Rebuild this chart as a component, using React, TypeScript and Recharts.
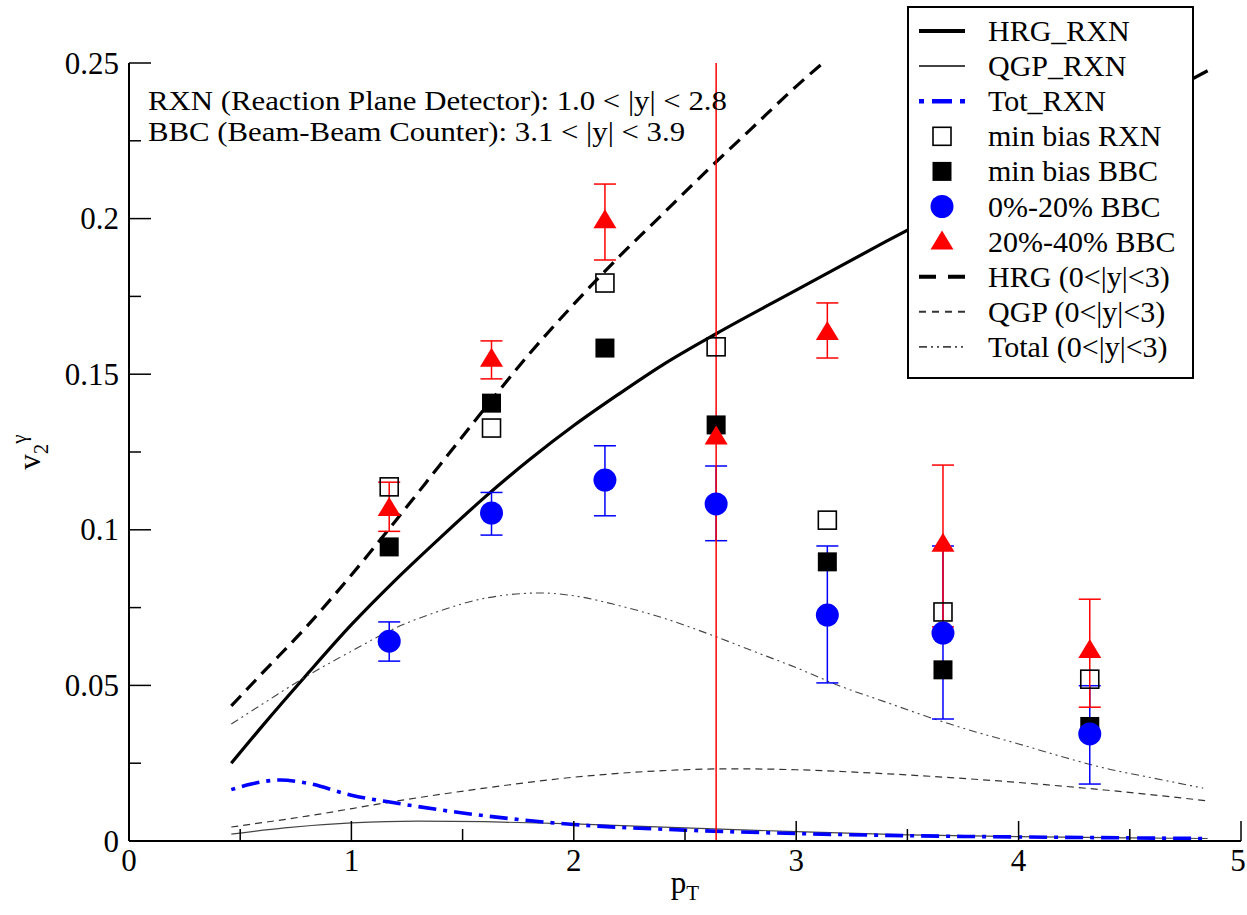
import { ComposedChart, Line, Scatter, XAxis, YAxis, ErrorBar } from 'recharts';

const FONT = '"Liberation Serif", "Times New Roman", serif';
const BLUE = '#0000ff';
const RED = '#ff0000';

// axis ticks (labels only on the major ones)
const X_TICKS = [0, 0.5, 1, 1.5, 2, 2.5, 3, 3.5, 4, 4.5, 5];
const Y_TICKS = [0, 0.025, 0.05, 0.075, 0.1, 0.125, 0.15, 0.175, 0.2, 0.225, 0.25];
const X_MAJOR = [0, 1, 2, 3, 4, 5];
const Y_MAJOR = [0, 0.05, 0.1, 0.15, 0.2, 0.25];
const Y_DOMAIN = [0, 0.25];

// measured points
const PT = [1.17, 1.63, 2.14, 2.64, 3.14, 3.66, 4.32];
const MIN_BIAS_RXN = [0.1138, 0.1327, 0.1793, 0.1588, 0.1031, 0.0736, 0.052];
const MIN_BIAS_BBC = [0.0945, 0.1407, 0.1584, 0.1337, 0.0897, 0.055, 0.0368];
const CENT_0_20 = [0.0642, 0.1054, 0.116, 0.1083, 0.0726, 0.0668, 0.0344];
const CENT_0_20_LOW = [0.0578, 0.0983, 0.1045, 0.0965, 0.0508, 0.0392, 0.0183];
const CENT_0_20_HIGH = [0.0704, 0.112, 0.127, 0.1205, 0.0948, 0.0948, 0.0499];
const CENT_20_40 = [0.107, 0.155, 0.1995, 0.13, 0.1636, 0.0955, 0.0614];
// the 2.64 bar runs past both ends of the frame
const CENT_20_40_LOW = [0.0995, 0.1485, 0.1867, 0, 0.1552, 0.0688, 0.043];
const CENT_20_40_HIGH = [0.1153, 0.1607, 0.2111, 0.25, 0.1729, 0.1208, 0.0777];

// model curves
const HRG_RXN_X = [0.46, 0.6, 0.8, 1.0, 1.2, 1.4, 1.6, 1.8, 2.0, 2.2, 2.4, 2.64, 3.0, 3.4, 3.8, 4.2, 4.6, 4.85];
const HRG_RXN_Y = [0.025, 0.037, 0.0535, 0.0695, 0.084, 0.0975, 0.1105, 0.1225, 0.1335, 0.1435, 0.153, 0.163, 0.177, 0.1925, 0.2075, 0.2225, 0.238, 0.2475];
const QGP_RXN_X = [0.46, 0.7, 1.0, 1.3, 1.6, 2.0, 2.5, 3.0, 3.5, 4.0, 4.5, 4.85];
const QGP_RXN_Y = [0.0022, 0.0042, 0.0058, 0.0064, 0.0062, 0.0055, 0.0042, 0.003, 0.002, 0.0014, 0.001, 0.0008];
const TOT_RXN_X = [0.46, 0.55, 0.68, 0.8, 1.0, 1.2, 1.5, 2.0, 2.5, 3.0, 3.5, 4.0, 4.5, 4.85];
const TOT_RXN_Y = [0.0165, 0.0183, 0.0196, 0.0186, 0.0147, 0.0122, 0.009, 0.0053, 0.0035, 0.0024, 0.0017, 0.0013, 0.001, 0.0008];
const HRG_X = [0.46, 0.6, 0.8, 1.0, 1.2, 1.4, 1.6, 1.8, 2.0, 2.2, 2.4, 2.6, 2.8, 3.0, 3.12];
const HRG_Y = [0.0434, 0.054, 0.069, 0.0855, 0.103, 0.121, 0.139, 0.1565, 0.1725, 0.1875, 0.2015, 0.2155, 0.229, 0.2425, 0.25];
const QGP_X = [0.46, 0.8, 1.2, 1.6, 2.0, 2.4, 2.7, 3.0, 3.3, 3.6, 4.0, 4.4, 4.85];
const QGP_Y = [0.0045, 0.008, 0.0128, 0.017, 0.0205, 0.0226, 0.0232, 0.0229, 0.022, 0.0208, 0.0188, 0.0163, 0.0129];
const TOTAL_X = [0.46, 0.6, 0.8, 1.0, 1.2, 1.4, 1.6, 1.85, 2.0, 2.2, 2.4, 2.6, 2.8, 3.0, 3.2, 3.4, 3.6, 3.8, 4.0, 4.2, 4.4, 4.6, 4.83];
const TOTAL_Y = [0.0376, 0.044, 0.053, 0.061, 0.0685, 0.074, 0.078, 0.0797, 0.0788, 0.0757, 0.0717, 0.0667, 0.0612, 0.0557, 0.0497, 0.0447, 0.0397, 0.0352, 0.0312, 0.027, 0.0232, 0.0203, 0.017];

type Point = { x: number; y: number; err?: number[]; clipped?: boolean };

const toPoints = (xs: number[], ys: number[]): Point[] => xs.map((x, i) => ({ x, y: ys[i] }));
const withErrors = (xs: number[], ys: number[], lo: number[], hi: number[]): Point[] =>
  xs.map((x, i) => ({
    x,
    y: ys[i],
    err: [ys[i] - lo[i], hi[i] - ys[i]],
    clipped: lo[i] <= Y_DOMAIN[0] || hi[i] >= Y_DOMAIN[1],
  }));

// marker shapes
const OpenSquare = ({ cx, cy }: any) => (
  <rect x={cx - 9} y={cy - 9} width={18} height={18} fill="none" stroke="#000" strokeWidth={1.6} />
);
const FilledSquare = ({ cx, cy }: any) => <rect x={cx - 9.5} y={cy - 9.5} width={19} height={19} fill="#000" />;
const BlueDot = ({ cx, cy }: any) => <circle cx={cx} cy={cy} r={11.5} fill={BLUE} />;
const RedTriangle = ({ cx, cy }: any) => (
  <polygon points={`${cx},${cy - 11} ${cx + 11.5},${cy + 8} ${cx - 11.5},${cy + 8}`} fill={RED} />
);

const CURVES = [
  { name: 'HRG_RXN', xs: HRG_RXN_X, ys: HRG_RXN_Y, stroke: '#000', width: 3.2, dash: undefined, legendDash: undefined },
  { name: 'QGP_RXN', xs: QGP_RXN_X, ys: QGP_RXN_Y, stroke: '#444', width: 1.2, dash: undefined, legendDash: undefined },
  { name: 'HRG (0<|y|<3)', xs: HRG_X, ys: HRG_Y, stroke: '#000', width: 3.2, dash: '14 8', legendDash: '17 12' },
  { name: 'QGP (0<|y|<3)', xs: QGP_X, ys: QGP_Y, stroke: '#333', width: 1.2, dash: '7 5', legendDash: '7 6' },
  { name: 'Total (0<|y|<3)', xs: TOTAL_X, ys: TOTAL_Y, stroke: '#444', width: 1.1, dash: '8 4 2 4 2 4', legendDash: '8 4 2 4 2 4' },
  { name: 'Tot_RXN', xs: TOT_RXN_X, ys: TOT_RXN_Y, stroke: BLUE, width: 3.6, dash: '4 7 18 7', legendDash: '5 8 20 8' },
];

const MARKERS = [
  { name: 'min bias RXN', data: toPoints(PT, MIN_BIAS_RXN), shape: OpenSquare, errColor: '' },
  { name: 'min bias BBC', data: toPoints(PT, MIN_BIAS_BBC), shape: FilledSquare, errColor: '' },
  { name: '0%-20% BBC', data: withErrors(PT, CENT_0_20, CENT_0_20_LOW, CENT_0_20_HIGH), shape: BlueDot, errColor: BLUE },
  { name: '20%-40% BBC', data: withErrors(PT, CENT_20_40, CENT_20_40_LOW, CENT_20_40_HIGH), shape: RedTriangle, errColor: RED },
];

const LEGEND_ORDER = [
  'HRG_RXN', 'QGP_RXN', 'Tot_RXN', 'min bias RXN', 'min bias BBC',
  '0%-20% BBC', '20%-40% BBC', 'HRG (0<|y|<3)', 'QGP (0<|y|<3)', 'Total (0<|y|<3)',
];

const ANNOTATION = [
  'RXN (Reaction Plane Detector): 1.0 < |y| < 2.8',
  'BBC (Beam-Beam Counter): 3.1 < |y| < 3.9',
];

const isIn = (v: number, list: number[]) => list.some((m) => Math.abs(m - v) < 1e-9);

// inward ticks, long for labelled values
const BottomTick = ({ x, y, payload }: any) => {
  const major = isIn(payload.value, X_MAJOR);
  return (
    <g>
      <line x1={x} x2={x} y1={y} y2={y - (major ? 20 : 12)} stroke="#000" strokeWidth={1.5} />
      {major && (
        <text x={Math.min(x, 1238)} y={y + 30} textAnchor="middle" fontFamily={FONT} fontSize={31} fill="#000">
          {payload.value}
        </text>
      )}
    </g>
  );
};
const TopTick = ({ x, y, payload }: any) => {
  const major = isIn(payload.value, X_MAJOR);
  return <line x1={x} x2={x} y1={y} y2={y + (major ? 20 : 12)} stroke="#000" strokeWidth={1.5} />;
};
const LeftTick = ({ x, y, payload }: any) => {
  const major = isIn(payload.value, Y_MAJOR);
  return (
    <g>
      <line x1={x} x2={x + (major ? 22 : 12)} y1={y} y2={y} stroke="#000" strokeWidth={1.5} />
      {major && (
        <text x={x - 10} y={y + 10.5} textAnchor="end" fontFamily={FONT} fontSize={31} fill="#000">
          {payload.value}
        </text>
      )}
    </g>
  );
};
const RightTick = ({ x, y, payload }: any) => {
  const major = isIn(payload.value, Y_MAJOR);
  return <line x1={x} x2={x - (major ? 22 : 12)} y1={y} y2={y} stroke="#000" strokeWidth={1.5} />;
};

const XTitle = ({ viewBox }: any) => (
  <text x={viewBox.x + viewBox.width / 2} y={viewBox.y + 52} textAnchor="middle" fontFamily={FONT} fontSize={31} fill="#000">
    p<tspan fontSize={21} dy={7}>T</tspan>
  </text>
);
const YTitle = ({ viewBox }: any) => (
  <text
    transform={`translate(${viewBox.x + 40}, ${viewBox.y + viewBox.height / 2}) rotate(-90)`}
    textAnchor="middle"
    fontFamily={FONT}
    fontSize={31}
    fill="#000"
  >
    v<tspan fontSize={21} dy={8}>2</tspan>
    <tspan fontSize={21} dy={-22}>γ</tspan>
  </text>
);

function Overlay() {
  const rowH = 35.1;
  const firstRow = 31;
  return (
    <svg width={1247} height={915} style={{ position: 'absolute', left: 0, top: 0, pointerEvents: 'none' }}>
      {ANNOTATION.map((t, i) => (
        <text
          key={t}
          transform={`translate(148, ${110 + i * 31}) scale(1.1, 1)`}
          fontFamily={FONT}
          fontSize={28}
          fill="#000"
        >
          {t}
        </text>
      ))}
      <rect x={908} y={7} width={285} height={371} fill="#fff" stroke="#000" strokeWidth={2} />
      {LEGEND_ORDER.map((name, i) => {
        const cy = firstRow + i * rowH;
        const curve = CURVES.find((c) => c.name === name);
        const marker = MARKERS.find((m) => m.name === name);
        const Shape = marker ? marker.shape : null;
        return (
          <g key={name}>
            {curve && (
              <line x1={919} x2={965} y1={cy} y2={cy} stroke={curve.stroke} strokeWidth={curve.width + 0.8} strokeDasharray={curve.legendDash} />
            )}
            {Shape && <Shape cx={942} cy={cy} />}
            <text x={988} y={cy + 10} fontFamily={FONT} fontSize={30} fill="#000">
              {name}
            </text>
          </g>
        );
      })}
    </svg>
  );
}

export default function App() {
  return (
    <div style={{ position: 'absolute', left: 0, top: 0, width: 1247, height: 915, background: '#fff' }}>
      <ComposedChart width={1247} height={915} margin={{ top: 63, right: 6, bottom: 0, left: 0 }}>
        <XAxis
          dataKey="x"
          type="number"
          domain={[0, 5]}
          ticks={X_TICKS}
          interval={0}
          allowDataOverflow
          height={74}
          tickSize={0}
          tickMargin={0}
          tickLine={false}
          tick={BottomTick}
          axisLine={{ stroke: '#000', strokeWidth: 2 }}
          label={(props: any) => <XTitle viewBox={props.viewBox} />}
        />
        <XAxis
          xAxisId="top"
          orientation="top"
          type="number"
          domain={[0, 5]}
          ticks={X_TICKS}
          interval={0}
          allowDataOverflow
          height={0}
          tickSize={0}
          tickMargin={0}
          tickLine={false}
          tick={TopTick}
          axisLine={{ stroke: '#000', strokeWidth: 2 }}
        />
        <YAxis
          type="number"
          domain={Y_DOMAIN}
          ticks={Y_TICKS}
          interval={0}
          allowDataOverflow
          width={129}
          tickSize={0}
          tickMargin={0}
          tickLine={false}
          tick={LeftTick}
          axisLine={{ stroke: '#000', strokeWidth: 2 }}
          label={(props: any) => <YTitle viewBox={props.viewBox} />}
        />
        <YAxis
          yAxisId="right"
          orientation="right"
          type="number"
          domain={Y_DOMAIN}
          ticks={Y_TICKS}
          interval={0}
          allowDataOverflow
          width={0}
          tickSize={0}
          tickMargin={0}
          tickLine={false}
          tick={RightTick}
          axisLine={{ stroke: '#000', strokeWidth: 2 }}
        />
        {CURVES.map((c) => (
          <Line
            key={c.name}
            name={c.name}
            data={toPoints(c.xs, c.ys)}
            dataKey="y"
            type="monotone"
            stroke={c.stroke}
            strokeWidth={c.width}
            strokeDasharray={c.dash}
            dot={false}
            activeDot={false}
            isAnimationActive={false}
          />
        ))}
        {MARKERS.flatMap((m) => {
          // bars that run out of the frame are drawn without caps
          const groups = [
            { id: 'in', data: m.data.filter((p) => !p.clipped), cap: 11 },
            { id: 'out', data: m.data.filter((p) => p.clipped), cap: 0 },
          ].filter((g) => g.data.length > 0);
          return groups.map((g) => (
            <Scatter key={`${m.name}-${g.id}`} name={m.name} data={g.data} dataKey="y" shape={m.shape} isAnimationActive={false}>
              {m.errColor && (
                <ErrorBar dataKey="err" direction="y" width={g.cap} stroke={m.errColor} strokeWidth={1.5} isAnimationActive={false} />
              )}
            </Scatter>
          ));
        })}
      </ComposedChart>
      <Overlay />
    </div>
  );
}
